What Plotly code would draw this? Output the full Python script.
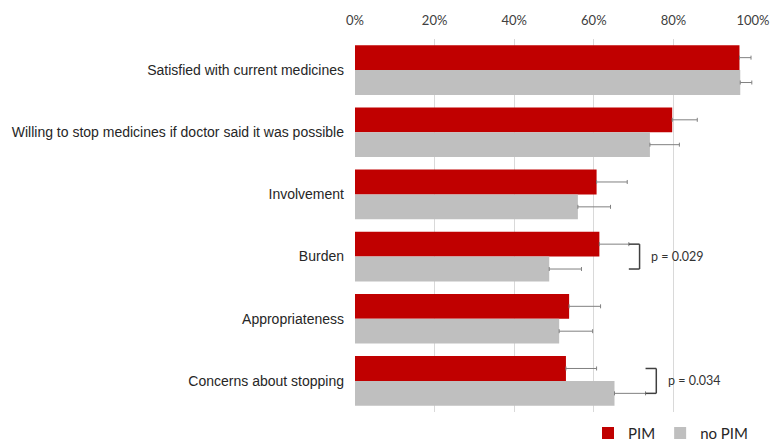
import plotly.graph_objects as go

# Survey items (top to bottom) and share of respondents agreeing, in %
categories = [
    "Satisfied with current medicines",
    "Willing to stop medicines if doctor said it was possible",
    "Involvement",
    "Burden",
    "Appropriateness",
    "Concerns about stopping",
]
pim = [96.6, 79.7, 60.7, 61.4, 53.8, 53.0]
no_pim = [96.8, 74.1, 56.0, 48.8, 51.3, 65.2]
# upper confidence half-widths
pim_err = [2.9, 6.3, 7.7, 7.4, 7.9, 7.7]
no_pim_err = [2.9, 7.4, 8.2, 8.1, 8.4, 7.8]

# significance brackets: category index and p-value label
sig_items = [3, 5]
sig_labels = ["p = 0.029", "p = 0.034"]

tick_vals = [0, 20, 40, 60, 80, 100]
tick_text = ["0%", "20%", "40%", "60%", "80%", "100%"]

RED = "#C00000"
GREY = "#BFBFBF"
ERR = "#808080"
NUM_FONT = "Lato"
LABEL_FONT = "Liberation Sans"

fig = go.Figure()
fig.add_trace(go.Bar(
    y=categories, x=pim, name="PIM", orientation="h",
    marker=dict(color=RED, line=dict(width=0)),
    error_x=dict(type="data", symmetric=False, array=pim_err,
                 arrayminus=[0] * len(pim), color=ERR, thickness=1, width=2),
))
fig.add_trace(go.Bar(
    y=categories, x=no_pim, name="no PIM", orientation="h",
    marker=dict(color=GREY, line=dict(width=0)),
    error_x=dict(type="data", symmetric=False, array=no_pim_err,
                 arrayminus=[0] * len(no_pim), color=ERR, thickness=1, width=2),
))

# brackets linking the two bars of a significant item
half = 0.2
for idx, label in zip(sig_items, sig_labels):
    x0 = max(pim[idx] + pim_err[idx], no_pim[idx] + no_pim_err[idx])
    x1 = x0 + 2.7
    line = dict(color="#404040", width=1.5)
    fig.add_shape(type="line", xref="x", yref="y", x0=x0, x1=x1,
                  y0=idx - half, y1=idx - half, line=line)
    fig.add_shape(type="line", xref="x", yref="y", x0=x1, x1=x1,
                  y0=idx - half, y1=idx + half, line=line)
    fig.add_shape(type="line", xref="x", yref="y", x0=x0, x1=x1,
                  y0=idx + half, y1=idx + half, line=line)
    fig.add_annotation(x=x1 + 2.4, y=idx, xref="x", yref="y", text=label,
                       showarrow=False, xanchor="left", yanchor="middle",
                       font=dict(family=NUM_FONT, size=12.5, color="#333333"))

fig.update_layout(
    width=773, height=441,
    margin=dict(l=355, r=20, t=39, b=29, autoexpand=False),
    paper_bgcolor="white", plot_bgcolor="white",
    barmode="group", bargap=0.2, bargroupgap=0,
    font=dict(family=NUM_FONT, size=12, color="#262626"),
    showlegend=True,
    legend=dict(orientation="h", x=1.0, xanchor="right", y=-0.057,
                yanchor="middle", font=dict(family=NUM_FONT, size=15, color="#262626"),
                itemwidth=30, tracegroupgap=0, traceorder="normal"),
    xaxis=dict(range=[0, 100], side="top", tickvals=tick_vals,
               ticktext=tick_text, showgrid=True, gridcolor="#D9D9D9",
               gridwidth=1, zeroline=False, showline=False,
               ticklabelstandoff=10,
               tickfont=dict(family=NUM_FONT, size=13, color="#404040")),
    yaxis=dict(autorange="reversed", showgrid=False, showline=False,
               ticklabelstandoff=10,
               tickfont=dict(family=LABEL_FONT, size=14, color="#262626")),
)

fig.write_html("out.html")
